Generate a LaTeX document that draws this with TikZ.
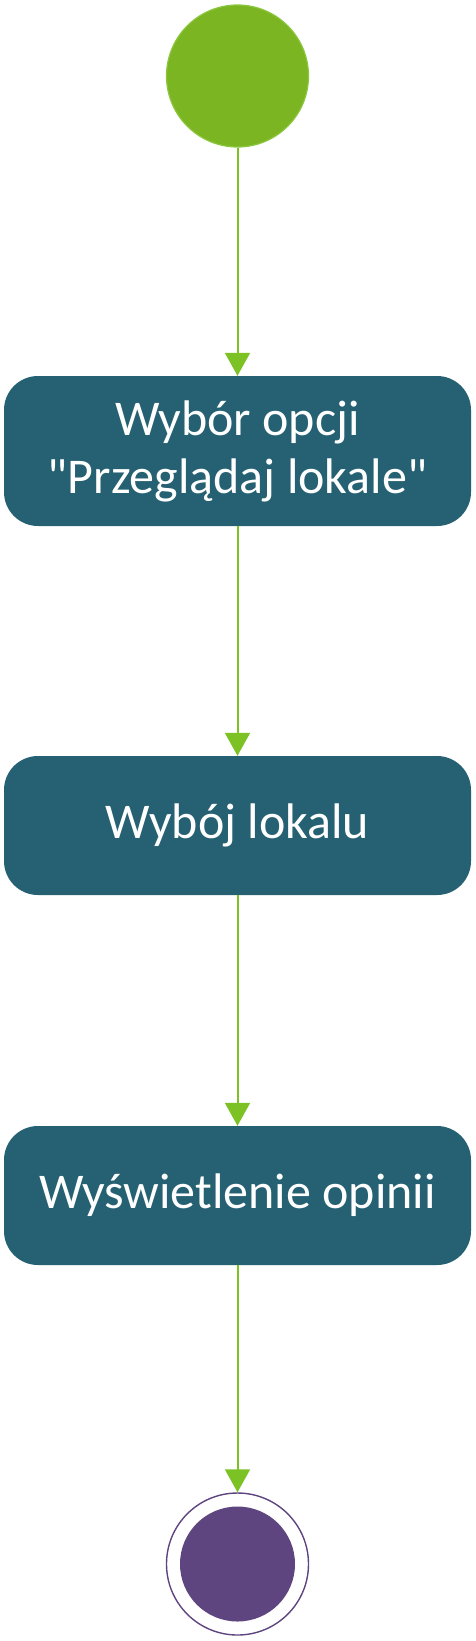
\documentclass[tikz,border=0pt]{standalone}
\usepackage{fontspec}
\setmainfont{Carlito}[Ligatures=TeXOff]
\usetikzlibrary{arrows.meta}
\definecolor{startgreen}{HTML}{7BB521}
\definecolor{startedge}{HTML}{8CC63F}
\definecolor{arrowgreen}{HTML}{7DC225}
\definecolor{boxteal}{HTML}{256172}
\definecolor{endpurple}{HTML}{5F4580}
\begin{document}
\begin{tikzpicture}[x=1pt,y=-1pt,
  actbox/.style={draw=none,fill=boxteal,rounded corners=34pt,minimum width=467pt,text=white,font=\fontsize{50}{58}\selectfont,align=center,inner sep=0pt},
  flow/.style={draw=arrowgreen,line width=2pt,-{Triangle[length=23pt,width=25pt]}}]
\useasboundingbox (0,0) rectangle (475,1641);
\node[circle,fill=startgreen,draw=startedge,line width=1.2pt,minimum size=142pt,inner sep=0pt] (start) at (237.5,76) {};
\node[actbox,minimum height=150pt] (b1) at (237.5,451) {Wybór opcji\\"Przeglądaj lokale"};
\node[actbox,minimum height=139pt] (b2) at (237.5,825.5) {Wybój lokalu};
\node[actbox,minimum height=139pt] (b3) at (237.5,1195.5) {Wyświetlenie opinii};
\node[circle,draw=endpurple,line width=1.4pt,minimum size=142pt,inner sep=0pt] (end) at (237.5,1564) {};
\node[circle,fill=endpurple,minimum size=115pt,inner sep=0pt] (endin) at (237.5,1564) {};
\draw[flow] (start) -- (b1);
\draw[flow] (b1) -- (b2);
\draw[flow] (b2) -- (b3);
\draw[flow] (b3) -- (end);
\end{tikzpicture}
\end{document}
